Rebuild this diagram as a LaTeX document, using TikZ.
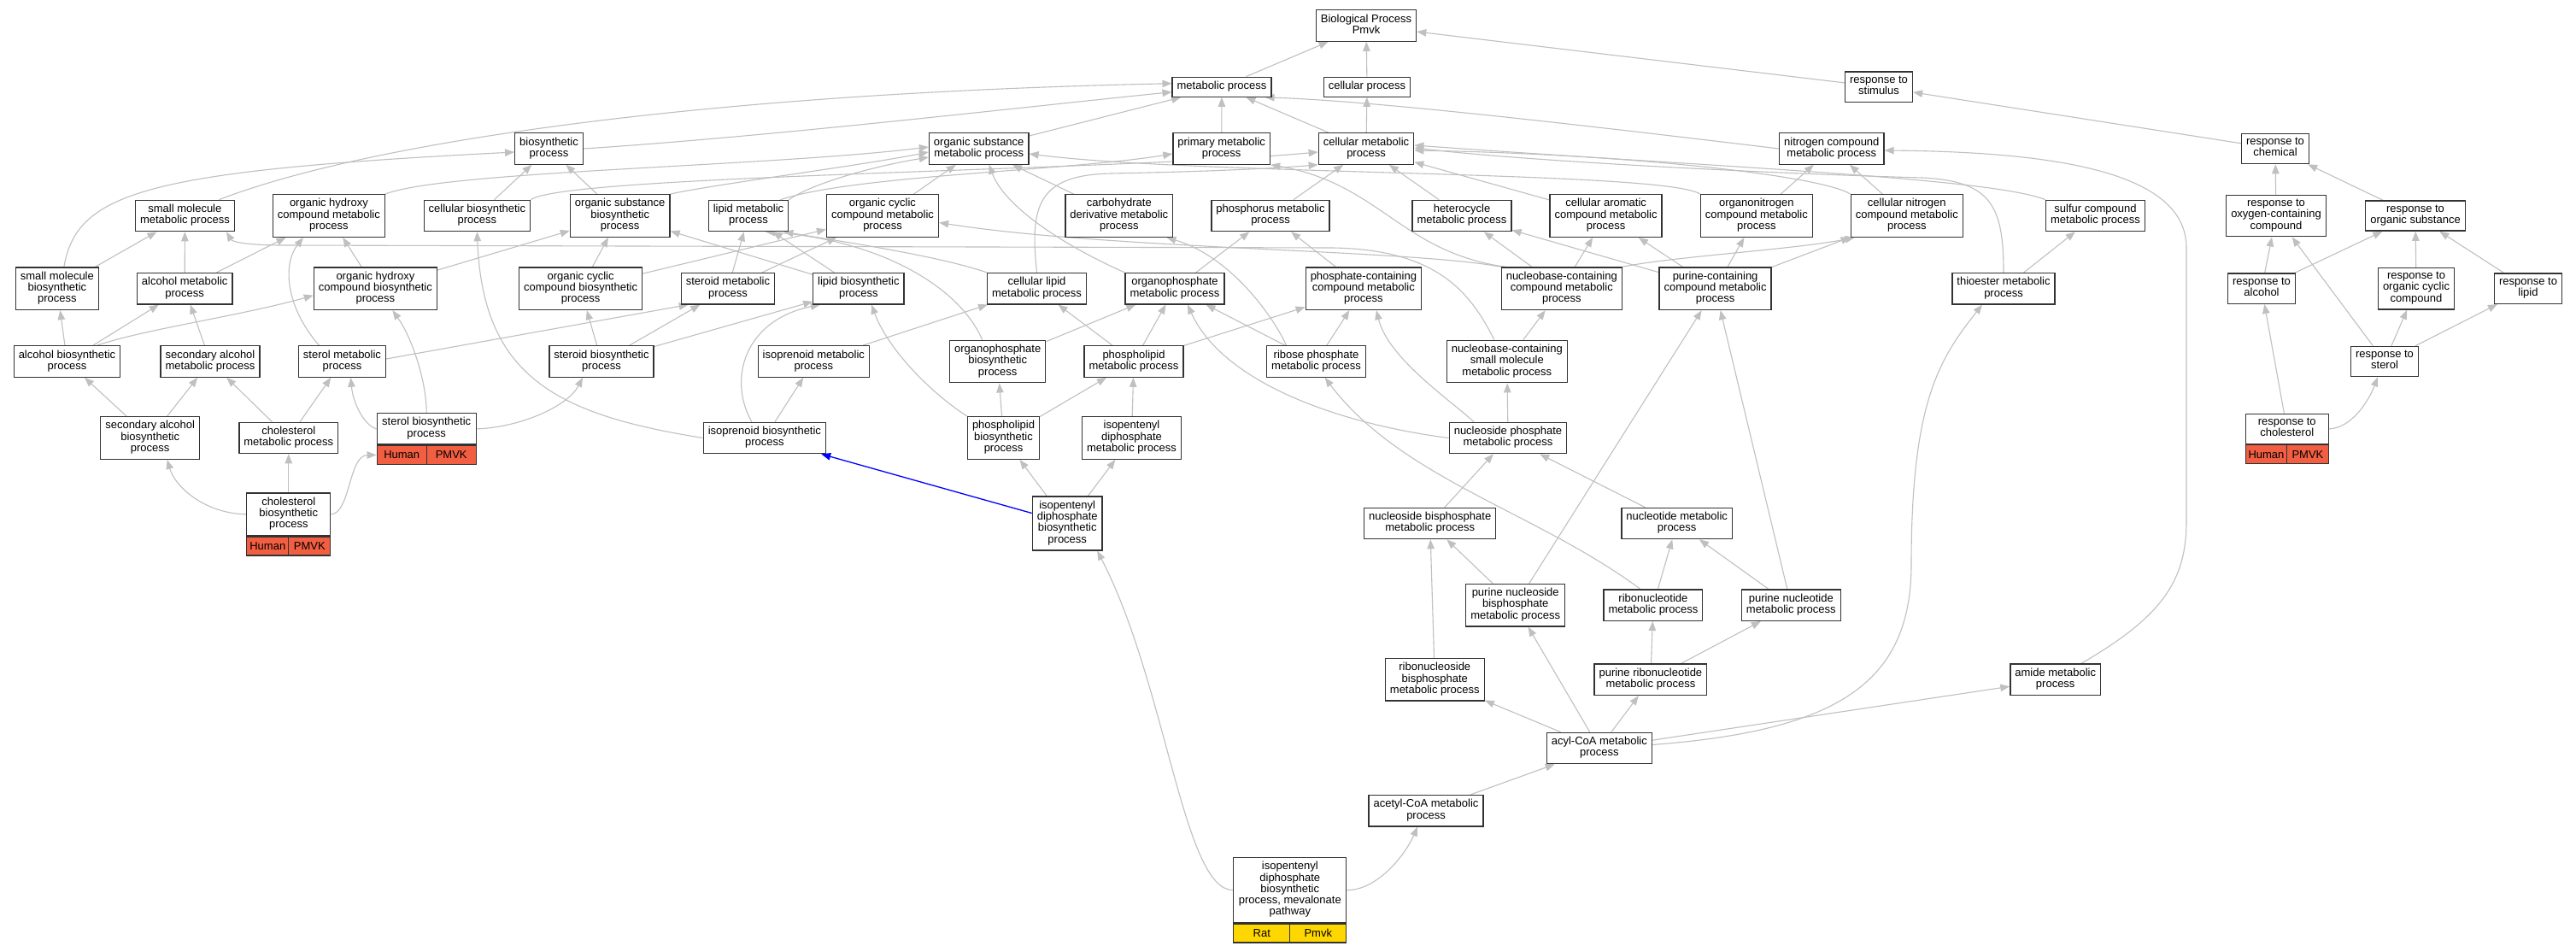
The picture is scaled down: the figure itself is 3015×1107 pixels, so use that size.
\documentclass[tikz,border=0pt]{standalone}
\usepackage{fontspec}
\setmainfont{Liberation Sans}
\usetikzlibrary{arrows.meta,backgrounds}
\definecolor{edgegray}{RGB}{192,192,192}
\definecolor{hitred}{RGB}{242,94,66}
\definecolor{hityellow}{RGB}{255,215,0}
\newcommand{\gofont}{\fontsize{13pt}{13.3pt}\selectfont}

\begin{document}
\begin{tikzpicture}
	[x=1pt,y=-1pt,
	gobox/.style={draw=black!80,line width=1.3pt,fill=white,align=center,font=\gofont,
		inner xsep=5.5pt,inner ysep=4.8pt,execute at begin node=\strut,execute at end node=\strut},
	hitcell/.style={draw=black!80,line width=1.3pt,font=\gofont,inner sep=0pt,minimum height=22pt},
	isa/.style={draw=edgegray,line width=1.1pt,-{Triangle[length=11pt,width=8.5pt]}},
	isablue/.style={isa,draw=blue,line width=1.3pt}]
	\useasboundingbox (0,0) rectangle (3015,1107);

	\node[gobox] (bp) at (1599,30) {Biological Process\\Pmvk};
	\node[gobox] (metab) at (1430,101.7) {metabolic process};
	\node[gobox] (cellproc) at (1600,101.7) {cellular process};
	\node[gobox] (respstim) at (2199,101.7) {response to\\stimulus};

	\node[gobox] (biosyn) at (642.5,174) {biosynthetic\\process};
	\node[gobox] (orgsub) at (1145.7,174) {organic substance\\metabolic process};
	\node[gobox] (primary) at (1429.7,174) {primary metabolic\\process};
	\node[gobox] (cellmet) at (1599,174) {cellular metabolic\\process};
	\node[gobox] (nitro) at (2143.8,174) {nitrogen compound\\metabolic process};
	\node[gobox] (respchem) at (2663,174) {response to\\chemical};

	\node[gobox] (smallmol) at (216.4,252.5) {small molecule\\metabolic process};
	\node[gobox] (ohcmet) at (384.9,252.5) {organic hydroxy\\compound metabolic\\process};
	\node[gobox] (cellbio) at (558.4,252.5) {cellular biosynthetic\\process};
	\node[gobox] (orgsubbio) at (725.7,252.5) {organic substance\\biosynthetic\\process};
	\node[gobox] (lipidmet) at (876,252.5) {lipid metabolic\\process};
	\node[gobox] (occmet) at (1033,252.5) {organic cyclic\\compound metabolic\\process};
	\node[gobox] (carbo) at (1309.8,252.5) {carbohydrate\\derivative metabolic\\process};
	\node[gobox] (phosphorus) at (1487,252.5) {phosphorus metabolic\\process};
	\node[gobox] (hetero) at (1711,252.5) {heterocycle\\metabolic process};
	\node[gobox] (cellarom) at (1879.6,252.5) {cellular aromatic\\compound metabolic\\process};
	\node[gobox] (organonitro) at (2055.8,252.5) {organonitrogen\\compound metabolic\\process};
	\node[gobox] (cellnitro) at (2231.8,252.5) {cellular nitrogen\\compound metabolic\\process};
	\node[gobox] (sulfur) at (2452.5,252.5) {sulfur compound\\metabolic process};
	\node[gobox] (respoxy) at (2664,252.5) {response to\\oxygen-containing\\compound};
	\node[gobox] (resporg) at (2827,252.5) {response to\\organic substance};

	\node[gobox] (smallmolbio) at (66.9,337.7) {small molecule\\biosynthetic\\process};
	\node[gobox] (alcmet) at (216.2,337.7) {alcohol metabolic\\process};
	\node[gobox] (ohcbio) at (439.4,337.7) {organic hydroxy\\compound biosynthetic\\process};
	\node[gobox] (occbio) at (679.6,337.7) {organic cyclic\\compound biosynthetic\\process};
	\node[gobox] (steroidmet) at (852,337.7) {steroid metabolic\\process};
	\node[gobox] (lipidbio) at (1004.9,337.7) {lipid biosynthetic\\process};
	\node[gobox] (celllipid) at (1213.5,337.7) {cellular lipid\\metabolic process};
	\node[gobox] (orgphosmet) at (1375,337.7) {organophosphate\\metabolic process};
	\node[gobox] (phoscont) at (1595.9,337.7) {phosphate-containing\\compound metabolic\\process};
	\node[gobox] (nucbase) at (1827.8,337.7) {nucleobase-containing\\compound metabolic\\process};
	\node[gobox] (purinecont) at (2007.6,337.7) {purine-containing\\compound metabolic\\process};
	\node[gobox] (thioester) at (2345,337.7) {thioester metabolic\\process};
	\node[gobox] (respalc) at (2647,337.7) {response to\\alcohol};
	\node[gobox] (respcyc) at (2828,337.7) {response to\\organic cyclic\\compound};
	\node[gobox] (resplipid) at (2959,337.7) {response to\\lipid};

	\node[gobox] (alcbio) at (78.5,423) {alcohol biosynthetic\\process};
	\node[gobox] (secalcmet) at (246,423) {secondary alcohol\\metabolic process};
	\node[gobox] (sterolmet) at (400.5,423) {sterol metabolic\\process};
	\node[gobox] (steroidbio) at (704,423) {steroid biosynthetic\\process};
	\node[gobox] (isoprenmet) at (952.3,423) {isoprenoid metabolic\\process};
	\node[gobox] (orgphosbio) at (1167.7,423) {organophosphate\\biosynthetic\\process};
	\node[gobox] (phoslipmet) at (1327,423) {phospholipid\\metabolic process};
	\node[gobox] (ribosephos) at (1540.6,423) {ribose phosphate\\metabolic process};
	\node[gobox] (nucbasesmall) at (1763.8,423) {nucleobase-containing\\small molecule\\metabolic process};
	\node[gobox] (respsterol) at (2791,423) {response to\\sterol};

	\node[gobox] (secalcbio) at (175.7,512.5) {secondary alcohol\\biosynthetic\\process};
	\node[gobox] (cholmet) at (337.8,512.5) {cholesterol\\metabolic process};
	\node[gobox,minimum width=116pt] (sterolbio) at (499.2,501.9) {sterol biosynthetic\\process};
	\node[hitcell,fill=hitred,minimum width=58pt,anchor=north west] (sterolbioa) at (sterolbio.south west) {Human};
	\node[hitcell,fill=hitred,minimum width=58pt,anchor=north east] (sterolbiob) at (sterolbio.south east) {PMVK};
	\node[gobox] (isoprenbio) at (894.9,512.5) {isoprenoid biosynthetic\\process};
	\node[gobox] (phoslipbio) at (1174.5,512.5) {phospholipid\\biosynthetic\\process};
	\node[gobox] (ippmet) at (1324.5,512.5) {isopentenyl\\diphosphate\\metabolic process};
	\node[gobox] (nucphos) at (1765,512.5) {nucleoside phosphate\\metabolic process};
	\node[gobox,minimum width=97pt] (respchol) at (2676.7,501.9) {response to\\cholesterol};
	\node[hitcell,fill=hitred,minimum width=48.5pt,anchor=north west] (respchola) at (respchol.south west) {Human};
	\node[hitcell,fill=hitred,minimum width=48.5pt,anchor=north east] (respcholb) at (respchol.south east) {PMVK};

	\node[gobox,minimum width=98pt] (cholbio) at (337.8,601.8) {cholesterol\\biosynthetic\\process};
	\node[hitcell,fill=hitred,minimum width=49pt,anchor=north west] (cholbioa) at (cholbio.south west) {Human};
	\node[hitcell,fill=hitred,minimum width=49pt,anchor=north east] (cholbiob) at (cholbio.south east) {PMVK};
	\node[gobox] (ippbio) at (1249.2,612.5) {isopentenyl\\diphosphate\\biosynthetic\\process};
	\node[gobox] (nucbisphos) at (1673.7,612.5) {nucleoside bisphosphate\\metabolic process};
	\node[gobox] (nucleotide) at (1962.7,612.5) {nucleotide metabolic\\process};

	\node[gobox] (purnucbis) at (1773.7,708.2) {purine nucleoside\\bisphosphate\\metabolic process};
	\node[gobox] (ribonuc) at (1934.9,708.2) {ribonucleotide\\metabolic process};
	\node[gobox] (purnuc) at (2096.3,708.2) {purine nucleotide\\metabolic process};

	\node[gobox] (ribonucbis) at (1679.3,795.3) {ribonucleoside\\bisphosphate\\metabolic process};
	\node[gobox] (purribo) at (1931.9,795.3) {purine ribonucleotide\\metabolic process};
	\node[gobox] (amide) at (2405.7,795.3) {amide metabolic\\process};
	\node[gobox] (acylcoa) at (1871.8,875.5) {acyl-CoA metabolic\\process};
	\node[gobox] (acetylcoa) at (1669,948.7) {acetyl-CoA metabolic\\process};
	\node[gobox,minimum width=132pt] (mevalonate) at (1509.8,1041.6) {isopentenyl\\diphosphate\\biosynthetic\\process, mevalonate\\pathway};
	\node[hitcell,fill=hityellow,minimum width=66pt,anchor=north west] (mevalonatea) at (mevalonate.south west) {Rat};
	\node[hitcell,fill=hityellow,minimum width=66pt,anchor=north east] (mevalonateb) at (mevalonate.south east) {Pmvk};

	\begin{pgfonlayer}{background}
	\fill[white] (0,0) rectangle (3015,1107);
	\path
	\foreach \childNode/\parentNode in {metab/bp, cellproc/bp, respstim/bp, primary/metab, orgsub/metab,
		cellmet/metab, cellmet/cellproc, respchem/respstim, cellbio/biosyn, orgsubbio/biosyn, occmet/orgsub,
		carbo/orgsub, phosphorus/cellmet, hetero/cellmet, cellarom/cellmet, organonitro/nitro, cellnitro/nitro,
		respoxy/respchem, resporg/respchem, smallmolbio/smallmol, alcmet/smallmol, alcmet/ohcmet, ohcbio/ohcmet,
		ohcbio/orgsubbio, occbio/orgsubbio, occbio/occmet, steroidmet/lipidmet, steroidmet/occmet,
		lipidbio/lipidmet, lipidbio/orgsubbio, orgphosmet/phosphorus, phoscont/phosphorus, nucbase/hetero,
		nucbase/cellarom, purinecont/hetero, purinecont/cellarom, purinecont/organonitro, purinecont/cellnitro,
		thioester/sulfur, respalc/respoxy, respalc/resporg, respcyc/resporg, resplipid/resporg,
		alcbio/smallmolbio, alcbio/alcmet, secalcmet/alcmet, steroidbio/occbio, steroidbio/steroidmet,
		steroidbio/lipidbio, isoprenmet/celllipid, orgphosbio/orgphosmet, phoslipmet/celllipid,
		phoslipmet/orgphosmet, phoslipmet/phoscont, ribosephos/orgphosmet, ribosephos/phoscont,
		nucbasesmall/nucbase, respsterol/respoxy, respsterol/respcyc, respsterol/resplipid, secalcbio/alcbio,
		secalcbio/secalcmet, cholmet/secalcmet, cholmet/sterolmet, isoprenbio/isoprenmet, phoslipbio/orgphosbio,
		phoslipbio/phoslipmet, ippmet/phoslipmet, nucphos/nucbasesmall, cholbio/cholmet, ippbio/phoslipbio,
		ippbio/ippmet, nucbisphos/nucphos, nucleotide/nucphos, purnucbis/nucbisphos, purnucbis/purinecont,
		ribonuc/nucleotide, purnuc/nucleotide, purnuc/purinecont, ribonucbis/nucbisphos, purribo/ribonuc,
		purribo/purnuc, acylcoa/ribonucbis, acylcoa/purnucbis, acylcoa/purribo, acylcoa/amide,
		acetylcoa/acylcoa, respchol/respalc}
	{
		(\childNode) edge[isa] (\parentNode)
	};
	\draw[isa] (biosyn.east) .. controls (900,160) and (1200,125) .. ([yshift=-6pt]metab.west);
	\draw[isa] ([xshift=40pt]smallmol.north) .. controls (420,170) and (800,110) .. ([yshift=4pt]metab.west);
	\draw[isa] (nitro.west) .. controls (1800,140) and (1600,118) .. ([xshift=-8pt]metab.south east);
	\draw[isa] (cellbio.north east) .. controls (660,205) and (1300,200) .. ([yshift=-4pt]cellmet.west);
	\draw[isa] (orgsubbio.north east) .. controls (840,215) and (1000,195) .. ([yshift=-4pt]orgsub.west);
	\draw[isa] (ohcmet.north east) .. controls (520,200) and (900,195) .. ([yshift=2pt]orgsub.west);
	\draw[isa] (lipidmet.north east) .. controls (950,215) and (1020,195) .. ([yshift=-10pt]orgsub.west);
	\draw[isa] ([xshift=-10pt]lipidmet.north east) .. controls (1000,205) and (1250,200) .. ([yshift=-6pt]primary.west);
	\draw[isa] (organonitro.north west) .. controls (1950,200) and (1400,205) .. ([yshift=-6pt]orgsub.east);
	\draw[isa] (orgphosmet.north west) .. controls (1240,285) and (1175,240) .. ([xshift=12pt]orgsub.south);
	\draw[isa] (cellnitro.north west) .. controls (2130,205) and (1900,180) .. ([yshift=-2pt]cellmet.east);
	\draw[isa] (sulfur.north west) .. controls (2330,208) and (2000,195) .. ([yshift=4pt]cellmet.east);
	\draw[isa] (thioester.north) .. controls (2345,240) and (2330,212) .. (2250,208) .. controls (2100,204) and (1800,190) .. ([yshift=1pt]cellmet.east);
	\draw[isa] (celllipid.north) .. controls (1205,240) and (1215,205) .. (1300,203) .. controls (1400,201) and (1480,198) .. (cellmet.south west);
	\draw[isa] (celllipid.north west) .. controls (1100,300) and (1000,285) .. ([xshift=-6pt]lipidmet.south east);
	\draw[isa] ([xshift=-18pt]orgphosbio.north) .. controls (1120,330) and (1020,280) .. ([xshift=20pt]lipidmet.south);
	\draw[isa] (nucbase.north west) .. controls (1650,292) and (1300,292) .. ([yshift=-8pt]occmet.east);
	\draw[isa] ([xshift=5pt]nucbase.north west) .. controls (1640,295) and (1615,215) .. (primary.south east);
	\draw[isa] (nucbase.north east) .. controls (1960,300) and (2100,292) .. ([xshift=5pt]cellnitro.south west);
	\draw[isa] ([xshift=-15pt]nucbasesmall.north) .. controls (1720,340) and (1680,292) .. (1560,290) -- (330,287) .. controls (290,287) and (272,283) .. ([xshift=-10pt]smallmol.south east);
	\draw[isa] (nucphos.west) .. controls (1560,495) and (1430,445) .. ([xshift=15pt]orgphosmet.south);
	\draw[isa] ([xshift=-40pt]nucphos.north) .. controls (1700,470) and (1625,420) .. ([xshift=15pt]phoscont.south);
	\draw[isa] ([xshift=-15pt]ribonuc.north) .. controls (1800,600) and (1640,560) .. ([xshift=10pt]ribosephos.south);
	\draw[isa] ([xshift=-35pt]ribosephos.north) .. controls (1490,370) and (1440,300) .. ([xshift=-8pt]carbo.south east);
	\draw[isa] ([xshift=8pt]smallmolbio.north) .. controls (90,225) and (170,200) .. ([yshift=-4pt]biosyn.west);
	\draw[isa] ([xshift=-27pt]sterolmet.north) .. controls (335,360) and (330,310) .. ([xshift=-30pt]ohcmet.south);
	\draw[isa] ([yshift=3pt]sterolmet.east) -- ([xshift=9pt]steroidmet.south west);
	\draw[isa] ([xshift=35pt]alcbio.north) .. controls (170,385) and (280,370) .. ([yshift=-8pt]ohcbio.west);
	\draw[isa] (sterolbio.west) .. controls (425,497) and (413,470) .. ([xshift=10pt]sterolmet.south);
	\draw[isa] (sterolbio.north) .. controls (499,445) and (482,395) .. ([xshift=20pt]ohcbio.south);
	\draw[isa] (sterolbio.east) .. controls (610,500) and (665,475) .. ([xshift=-22pt]steroidbio.south);
	\draw[isa] (isoprenbio.west) .. controls (650,485) and (565,440) .. (cellbio.south);
	\draw[isa] ([xshift=-15pt]isoprenbio.north) .. controls (852,445) and (870,375) .. ([xshift=-45pt]lipidbio.south);
	\draw[isa] (phoslipbio.north west) .. controls (1090,460) and (1040,410) .. ([xshift=15pt]lipidbio.south);
	\draw[isa] (cholbio.west) .. controls (240,601) and (205,570) .. ([xshift=20pt]secalcbio.south);
	\draw[isa] (cholbio.east) .. controls (410,601) and (408,533) .. (sterolbioa.west);
	\draw[isablue] ([yshift=12pt]ippbio.west) -- ([xshift=-6pt]isoprenbio.south east);
	\draw[isa] (mevalonate.east) .. controls (1612,1042) and (1645,1000) .. ([xshift=-10pt]acetylcoa.south);
	\draw[isa] (mevalonate.west) .. controls (1385,1042) and (1365,800) .. ([xshift=35pt]ippbio.south);
	\draw[isa] ([xshift=30pt]amide.north) .. controls (2530,722) and (2559,680) .. (2559,610) -- (2559,290) .. controls (2559,205) and (2420,178) .. ([yshift=-2pt]nitro.east);
	\draw[isa] ([yshift=4pt]acylcoa.east) .. controls (2150,855) and (2237,800) .. (2237,660) .. controls (2237,470) and (2270,420) .. ([xshift=-25pt]thioester.south);
	\draw[isa] (respchol.east) .. controls (2752,501) and (2772,470) .. ([xshift=-8pt]respsterol.south);
	\end{pgfonlayer}
\end{tikzpicture}
\end{document}
